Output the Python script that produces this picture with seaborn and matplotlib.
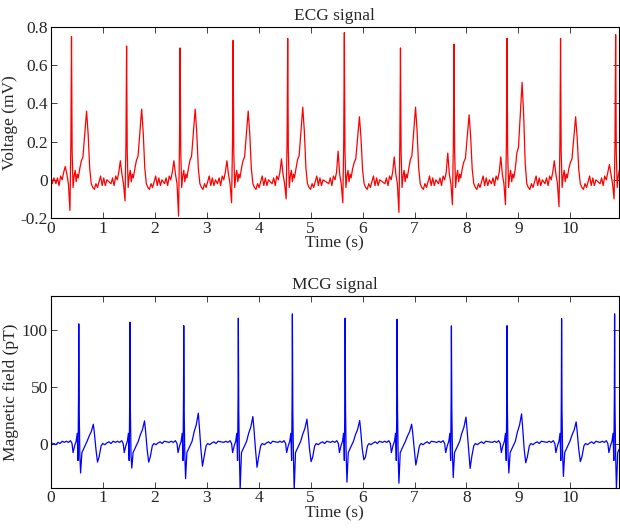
import numpy as np
import pandas as pd
import matplotlib
matplotlib.use("Agg")
import matplotlib.pyplot as plt
import seaborn as sns

# ---- ECG beats ----
ecg_r_times = [0.40, 1.46, 2.49, 3.51, 4.56, 5.65, 6.73, 7.76, 8.78, 9.81, 10.87]
ecg_r_peaks = [0.75, 0.70, 0.69, 0.73, 0.74, 0.77, 0.69, 0.71, 0.74, 0.74, 0.76]
ecg_q_dips = [-0.16, -0.11, -0.19, -0.12, -0.10, -0.12, -0.17, -0.13, -0.13, -0.14, -0.10]
ecg_p_waves = [0.07, 0.10, 0.10, 0.10, 0.11, 0.15, 0.12, 0.14, 0.12, 0.10, 0.08]
ecg_t_waves = [0.36, 0.37, 0.37, 0.36, 0.38, 0.33, 0.38, 0.34, 0.51, 0.33, 0.35]

# one ECG beat around the R peak (offset in s, value in mV, which part)
ecg_shape_t = [-0.30, -0.27, -0.24, -0.21, -0.18, -0.15, -0.12, -0.09, -0.06, -0.03, -0.012,
               0.0, 0.012, 0.03, 0.05, 0.07, 0.09, 0.11, 0.13, 0.16, 0.19, 0.22, 0.25,
               0.29, 0.32, 0.35, 0.38, 0.41, 0.44, 0.47, 0.50, 0.53, 0.56, 0.59, 0.62,
               0.65, 0.68]
ecg_shape_v = [-0.02, 0.01, -0.03, 0.02, 0.0, 0.04, 0.08, 0.03, -0.02, -0.15, 0.20,
               0.75, 0.15, -0.04, 0.02, 0.05, -0.01, 0.03, 0.01, 0.06, 0.10, 0.12, 0.22,
               0.36, 0.24, 0.06, -0.02, -0.04, -0.05, -0.02, -0.04, -0.01, 0.02, -0.03, 0.01,
               -0.03, 0.0]
ecg_shape_kind = ['b', 'b', 'b', 'b', 'b', 'b', 'P', 'b', 'b', 'Q', 'b',
                  'R', 'b', 'b', 'b', 'b', 'b', 'b', 'b', 'b', 't', 't', 't',
                  'T', 't', 't', 'b', 'b', 'b', 'b', 'b', 'b', 'b', 'b', 'b',
                  'b', 'b']
ecg_lead_t = [0.0, 0.03, 0.06]
ecg_lead_v = [0.03, -0.02, 0.01]

# ---- MCG beats ----
mcg_r_times = [0.54, 1.525, 2.56, 3.61, 4.65, 5.665, 6.665, 7.71, 8.78, 9.83, 10.85]
mcg_r_peaks = [105.6, 107.0, 104.0, 110.6, 114.4, 110.6, 109.7, 103.8, 104.0, 110.3, 114.4]
mcg_s_dips = [-26.0, -21.7, -31.0, -41.0, -41.0, -34.0, -35.0, -30.0, -26.0, -29.0, -41.0]
mcg_t_waves = [17.0, 20.0, 26.8, 23.8, 21.5, 20.3, 17.0, 23.3, 26.2, 19.1, 20.0]
mcg_t_drops = [-16.4, -16.4, -20.0, -21.0, -16.0, -14.4, -19.0, -22.0, -17.0, -16.0, -16.0]

mcg_shape_t = [-0.28, -0.24, -0.20, -0.16, -0.13, -0.11, -0.08, -0.05, -0.03, -0.015, -0.005,
               0.0, 0.008, 0.02, 0.035, 0.06, 0.09, 0.12, 0.16, 0.20, 0.24,
               0.28, 0.30, 0.33, 0.36, 0.39, 0.43, 0.46, 0.50, 0.54, 0.58, 0.62, 0.66]
mcg_shape_v = [1.0, 2.0, 1.0, 2.5, 0.0, -8.0, -2.0, 2.0, 9.0, -15.0, 40.0,
               105.0, 30.0, -10.0, -26.0, -8.0, -5.0, -2.0, 2.0, 7.0, 11.0,
               18.0, 10.0, -5.0, -17.0, -12.0, -2.0, 0.0, -1.0, 0.5, 1.5, 0.0, 2.0]
mcg_shape_kind = ['b', 'b', 'b', 'b', 'b', 'b', 'b', 'b', 'b', 'b', 'b',
                  'R', 'b', 'b', 'S', 'b', 'b', 'b', 'b', 't', 't',
                  'T', 't', 'b', 'D', 'b', 'b', 'b', 'b', 'b', 'b', 'b', 'b']
mcg_lead_t = [0.0, 0.03, 0.06, 0.10, 0.14, 0.18, 0.22]
mcg_lead_v = [4.0, -1.0, 0.0, -1.0, 1.0, 0.0, 2.0]


def build_signal(r_times, parts, shape_t, shape_v, shape_kind, t_ref, lead_t, lead_v):
    ts = list(lead_t)
    vs = list(lead_v)
    for i, r in enumerate(r_times):
        for off, val, kind in zip(shape_t, shape_v, shape_kind):
            if kind == 't':
                val = val * parts['T'][i] / t_ref
            elif kind in parts:
                val = parts[kind][i]
            ts.append(r + off)
            vs.append(val)
    return pd.DataFrame({'time': ts, 'value': vs})


ecg_df = build_signal(ecg_r_times,
                      {'R': ecg_r_peaks, 'Q': ecg_q_dips, 'P': ecg_p_waves, 'T': ecg_t_waves},
                      ecg_shape_t, ecg_shape_v, ecg_shape_kind, 0.36, ecg_lead_t, ecg_lead_v)
mcg_df = build_signal(mcg_r_times,
                      {'R': mcg_r_peaks, 'S': mcg_s_dips, 'T': mcg_t_waves, 'D': mcg_t_drops},
                      mcg_shape_t, mcg_shape_v, mcg_shape_kind, 18.0, mcg_lead_t, mcg_lead_v)

sns.set_style("ticks")
plt.rcParams['font.family'] = ['Liberation Serif', 'DejaVu Serif']
fs = 12.5

fig = plt.figure(figsize=(6.2, 5.28), dpi=100)
ax1 = fig.add_axes([0.0818, 0.587, 0.9162, 0.362])
ax2 = fig.add_axes([0.0818, 0.0763, 0.9162, 0.3627])

sns.lineplot(data=ecg_df, x='time', y='value', ax=ax1, color='#ff0000',
             linewidth=0.9, estimator=None, sort=False)
sns.lineplot(data=mcg_df, x='time', y='value', ax=ax2, color='#0000ff',
             linewidth=0.9, estimator=None, sort=False)

ax1.set_xlim(0, 10.93)
ax1.set_ylim(-0.2, 0.8)
ax1.set_yticks([-0.2, 0, 0.2, 0.4, 0.6, 0.8])
ax1.set_yticklabels(['-0.2', '0', '0.2', '0.4', '0.6', '0.8'])
ax1.set_title('ECG signal', fontsize=fs, pad=5)
ax1.set_ylabel('Voltage (mV)', fontsize=fs, labelpad=2)

ax2.set_xlim(0, 10.93)
ax2.set_ylim(-39, 130)
ax2.set_yticks([0, 50, 100])
ax2.set_yticklabels(['0', '50', '100'])
ax2.set_title('MCG signal', fontsize=fs, pad=5)
ax2.set_ylabel('Magnetic field (pT)', fontsize=fs, labelpad=2)

for ax in (ax1, ax2):
    ax.set_xticks(range(0, 11))
    ax.set_xticklabels([str(i) for i in range(0, 11)])
    ax.set_xlabel('Time (s)', fontsize=fs, labelpad=-1)
    ax.tick_params(direction='in', top=True, right=True, length=4, width=0.6,
                   labelsize=fs, pad=2)
    for sp in ax.spines.values():
        sp.set_visible(True)
        sp.set_linewidth(0.8)
        sp.set_color('black')

fig.savefig('out.png', dpi=100)
